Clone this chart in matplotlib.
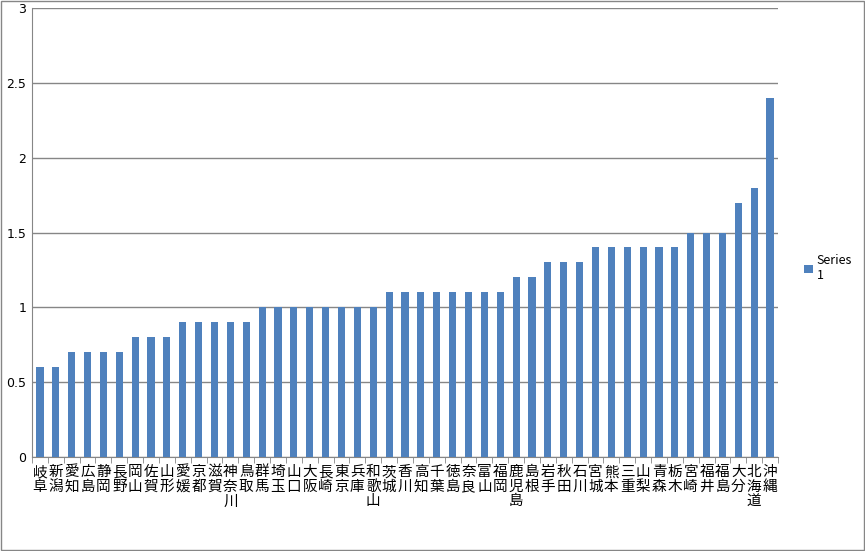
import matplotlib
matplotlib.use("Agg")
import matplotlib.pyplot as plt
from matplotlib.patches import Rectangle
import numpy as np

plt.rcParams['font.family'] = ['Noto Sans CJK JP', 'DejaVu Sans']

# 都道府県と値
prefs = ["岐阜", "新潟", "愛知", "広島", "静岡", "長野", "岡山", "佐賀", "山形",
         "愛媛", "京都", "滋賀", "神奈川", "鳥取",
         "群馬", "埼玉", "山口", "大阪", "長崎", "東京", "兵庫", "和歌山",
         "茨城", "香川", "高知", "千葉", "徳島", "奈良", "富山", "福岡",
         "鹿児島", "島根", "岩手", "秋田", "石川",
         "宮城", "熊本", "三重", "山梨", "青森", "栃木",
         "宮崎", "福井", "福島", "大分", "北海道", "沖縄"]
values = [0.6, 0.6, 0.7, 0.7, 0.7, 0.7, 0.8, 0.8, 0.8,
          0.9, 0.9, 0.9, 0.9, 0.9,
          1.0, 1.0, 1.0, 1.0, 1.0, 1.0, 1.0, 1.0,
          1.1, 1.1, 1.1, 1.1, 1.1, 1.1, 1.1, 1.1,
          1.2, 1.2, 1.3, 1.3, 1.3,
          1.4, 1.4, 1.4, 1.4, 1.4, 1.4,
          1.5, 1.5, 1.5, 1.7, 1.8, 2.4]
yticks = [0, 0.5, 1, 1.5, 2, 2.5, 3]
ytick_labels = ["0", "0.5", "1", "1.5", "2", "2.5", "3"]

fig = plt.figure(figsize=(8.65, 5.51), dpi=100)
ax = fig.add_axes([32/865, 94/551, 746/865, 449/551])

x = np.arange(len(prefs))
ax.bar(x, values, width=0.45, color='#4F81BD', label="Series\n1", zorder=3)

ax.set_xlim(-0.5, len(prefs) - 0.5)
ax.set_ylim(0, 3)
ax.set_yticks(yticks)
ax.set_yticklabels(ytick_labels, fontsize=9, family=['DejaVu Sans'])
ax.tick_params(axis='y', length=0, pad=4)

# 縦書きラベル
ax.set_xticks(x)
ax.set_xticklabels(["\n".join(p) for p in prefs], fontsize=10.5, va='top', linespacing=1.05)
ax.tick_params(axis='x', which='major', length=0, pad=6)
ax.set_xticks(np.arange(-0.5, len(prefs)), minor=True)
ax.tick_params(axis='x', which='minor', length=4, color='#868686', direction='out')

ax.yaxis.grid(True, color='#868686', linewidth=1, zorder=0)
for s in ['top', 'right']:
    ax.spines[s].set_visible(False)
for s in ['left', 'bottom']:
    ax.spines[s].set_color('#868686')

ax.legend(loc='center left', bbox_to_anchor=(1.02, 0.42), frameon=False,
          fontsize=9, handlelength=0.7, handleheight=0.7, handletextpad=0.3)

fig.patches.append(Rectangle((0.001, 0.001), 0.998, 0.998, transform=fig.transFigure,
                             fill=False, edgecolor='#868686', linewidth=1))

fig.savefig("out.png", dpi=100)
